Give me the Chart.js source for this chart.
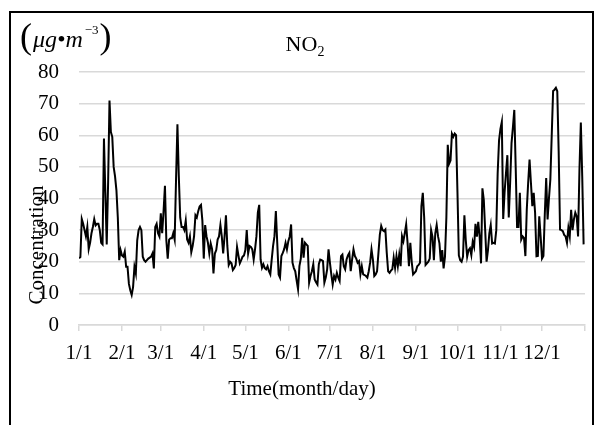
<!DOCTYPE html>
<html>
<head>
<meta charset="utf-8">
<script src="https://cdn.jsdelivr.net/npm/chart.js@4.4.1/dist/chart.umd.min.js"></script>
<style>
    html, body { margin: 0; padding: 0; background: #fff; }
    #wrap { position: relative; width: 595px; height: 425px; overflow: hidden; }
    #frame { position: absolute; left: 9px; top: 11px; width: 585px; height: 430px; border: 2px solid #000; box-sizing: border-box; pointer-events: none; }
    canvas { position: absolute; left: 0; top: 0; }
</style>
</head>
<body>
<div id="wrap">
    <canvas id="no2Chart" width="595" height="425"></canvas>
    <div id="frame"></div>
</div>
<script>
// ===================================
// DATA (daily NO2, one array per month)
// ===================================

const monthLabels = ['1/1', '2/1', '3/1', '4/1', '5/1', '6/1', '7/1', '8/1', '9/1', '10/1', '11/1', '12/1'];
const monthStarts = [0, 31, 59, 90, 120, 151, 181, 212, 243, 273, 304, 334, 365];
const yTicks = [0, 10, 20, 30, 40, 50, 60, 70, 80];

const jan = [21.1, 21.5, 33.5, 32, 30, 28, 31, 24, 26, 29, 31, 33.5, 31.5, 32, 32, 30, 26, 25.5, 59, 42, 25.5, 45, 71, 61, 59.5, 50, 47, 42.6, 34, 20.5, 23.7];
const feb = [22, 21.6, 23.2, 18.4, 18.4, 13, 11, 9.5, 12, 18.4, 16.3, 26.8, 30, 31, 30, 21.6, 20.5, 20, 20.5, 21, 21.3, 21.6, 22.6, 17.9, 31, 32, 29, 28];
const mar = [35.3, 29, 36, 44, 26.8, 21, 27, 27.4, 27.4, 29, 27, 46, 63.5, 47, 34, 31, 31, 30, 33, 27, 26, 28, 23, 25, 28, 34.7, 34, 36, 37.5, 38, 33];
const apr = [21, 31.6, 28, 26, 22.6, 25.8, 24, 16.3, 22.6, 23.7, 27, 28, 31.6, 28, 22.6, 28, 34.7, 25, 19, 20, 19.5, 17.4, 18, 19, 24.7, 22, 19.5, 20.5, 21.6, 22];
const may = [23.7, 30, 22.6, 25, 24.7, 23.9, 20.7, 24, 28.1, 35.5, 38, 20.7, 18.1, 19.2, 18, 17.6, 18.6, 17, 16, 20.7, 25, 28.1, 36, 26, 16, 15, 21.8, 22.8, 24, 26, 23.9];
const jun = [26.5, 28, 31.8, 19.7, 18, 17, 14, 11.3, 18.6, 21, 27.6, 21.3, 26, 25.5, 25, 13.4, 15.5, 17, 19.2, 14.4, 13.5, 12.8, 19.2, 20.7, 20.5, 20.2, 13.4, 15, 17.6, 23.9];
const jul = [19.7, 16, 12.8, 15.5, 14.4, 16.5, 15, 13.9, 21.8, 22.3, 18.6, 17.6, 20.7, 22, 22.8, 17, 20.7, 23.9, 21.8, 21, 19.7, 20.2, 16, 18.6, 16, 15.8, 15.5, 15, 17, 19.7, 23.9];
const aug = [20.7, 15.5, 16, 17, 22.8, 28.6, 31.3, 30, 29.7, 30.2, 22.8, 17, 16.5, 17.2, 17.6, 21.3, 18.1, 21.8, 18.6, 22.3, 18.6, 28.1, 26.5, 29, 31.8, 26, 18.6, 26, 20, 16, 16.5];
const sep = [17, 18.6, 19, 19.7, 37.6, 41.8, 34, 19, 19.5, 20, 21, 30, 27.9, 20.5, 29, 31.6, 28, 25.8, 20, 23.7, 17.9, 21.6, 34, 57, 51, 52, 60.5, 59.5, 60.5, 60];
const oct = [42, 22, 20.5, 20, 21.6, 34.7, 26.8, 21.6, 23.7, 24.3, 22.1, 26.3, 24.7, 32, 27.9, 32.6, 27.9, 19.5, 43.2, 39.5, 30, 20, 23.7, 29, 31.6, 25.8, 26, 25.8, 30, 48, 58.4];
const nov = [62, 64.2, 33.5, 42, 48, 53.7, 34, 45, 57.5, 62.5, 68, 50, 31, 31, 41.8, 27, 28, 27.5, 21.8, 36.5, 45, 52.3, 45, 37.6, 41.8, 35.5, 21.7, 21.8, 34.4, 28];
const dec = [21, 21.8, 35, 46.5, 33.4, 40, 46, 60, 74, 74.4, 75, 73.9, 55, 30.2, 30, 29.7, 28.5, 28, 26, 30.7, 28, 36.4, 30, 33.4, 35.5, 34.3, 28, 49.2, 64, 47, 25.5];

const no2 = [].concat(jan, feb, mar, apr, may, jun, jul, aug, sep, oct, nov, dec);

// ===================================
// STYLE
// ===================================

const serif = "'Liberation Serif', 'Times New Roman', serif";
const gridGray = '#d9d9d9';

// Title, unit label and axis titles drawn on the canvas
const textPlugin = {
    id: 'textPlugin',
    afterDraw(chart) {
        const ctx = chart.ctx;
        ctx.save();
        ctx.fillStyle = '#000';
        ctx.textBaseline = 'alphabetic';

        // NO2 title with subscript
        ctx.font = `22px ${serif}`;
        const noW = ctx.measureText('NO').width;
        ctx.font = `14px ${serif}`;
        const subW = ctx.measureText('2').width;
        const tx = 305 - (noW + subW) / 2;
        ctx.font = `22px ${serif}`;
        ctx.fillText('NO', tx, 51);
        ctx.font = `14px ${serif}`;
        ctx.fillText('2', tx + noW, 56);

        // unit label (μg•m^-3)
        let x = 20;
        ctx.font = `36px ${serif}`;
        ctx.fillText('(', x, 48);
        x += ctx.measureText('(').width + 1;
        ctx.font = `italic 24px ${serif}`;
        ctx.fillText('μg•m', x, 47);
        x += ctx.measureText('μg•m').width + 2;
        ctx.font = `13px ${serif}`;
        ctx.fillText('−3', x, 34);
        x += ctx.measureText('−3').width + 1;
        ctx.font = `36px ${serif}`;
        ctx.fillText(')', x, 48);

        // y axis title
        ctx.font = `21px ${serif}`;
        ctx.textAlign = 'center';
        ctx.textBaseline = 'middle';
        ctx.save();
        ctx.translate(37, 245);
        ctx.rotate(-Math.PI / 2);
        ctx.fillText('Concentration', 0, 0);
        ctx.restore();

        // x axis title
        ctx.fillText('Time(month/day)', 302, 389);
        ctx.restore();
    }
};

new Chart(document.getElementById('no2Chart').getContext('2d'), {
    type: 'line',
    data: {
        datasets: [{
            data: no2.map((v, i) => ({ x: i, y: v })),
            borderColor: '#000',
            borderWidth: 2,
            pointRadius: 0,
            tension: 0,
            fill: false
        }]
    },
    options: {
        responsive: false,
        animation: false,
        events: [],
        layout: { padding: { top: 72, right: 3, left: 0, bottom: 0 } },
        plugins: {
            legend: { display: false },
            tooltip: { enabled: false }
        },
        scales: {
            x: {
                type: 'linear',
                min: 0,
                max: 365,
                afterBuildTicks: scale => { scale.ticks = monthStarts.map(v => ({ value: v })); },
                afterFit: scale => { scale.height = 100; },
                grid: { drawOnChartArea: false, drawTicks: true, tickLength: 6, color: gridGray, lineWidth: 1.5 },
                border: { display: true, color: gridGray, width: 1.5 },
                ticks: {
                    autoSkip: false,
                    maxRotation: 0,
                    padding: 10,
                    color: '#000',
                    font: { family: serif, size: 21 },
                    callback: (value, index) => monthLabels[index] || ''
                }
            },
            y: {
                min: 0,
                max: 80,
                afterBuildTicks: scale => { scale.ticks = yTicks.map(v => ({ value: v })); },
                afterFit: scale => { scale.width = 79; },
                grid: { drawTicks: false, color: gridGray, lineWidth: 1.5 },
                border: { display: false },
                ticks: {
                    padding: 20,
                    color: '#000',
                    font: { family: serif, size: 21 }
                }
            }
        }
    },
    plugins: [textPlugin]
});
</script>
</body>
</html>
